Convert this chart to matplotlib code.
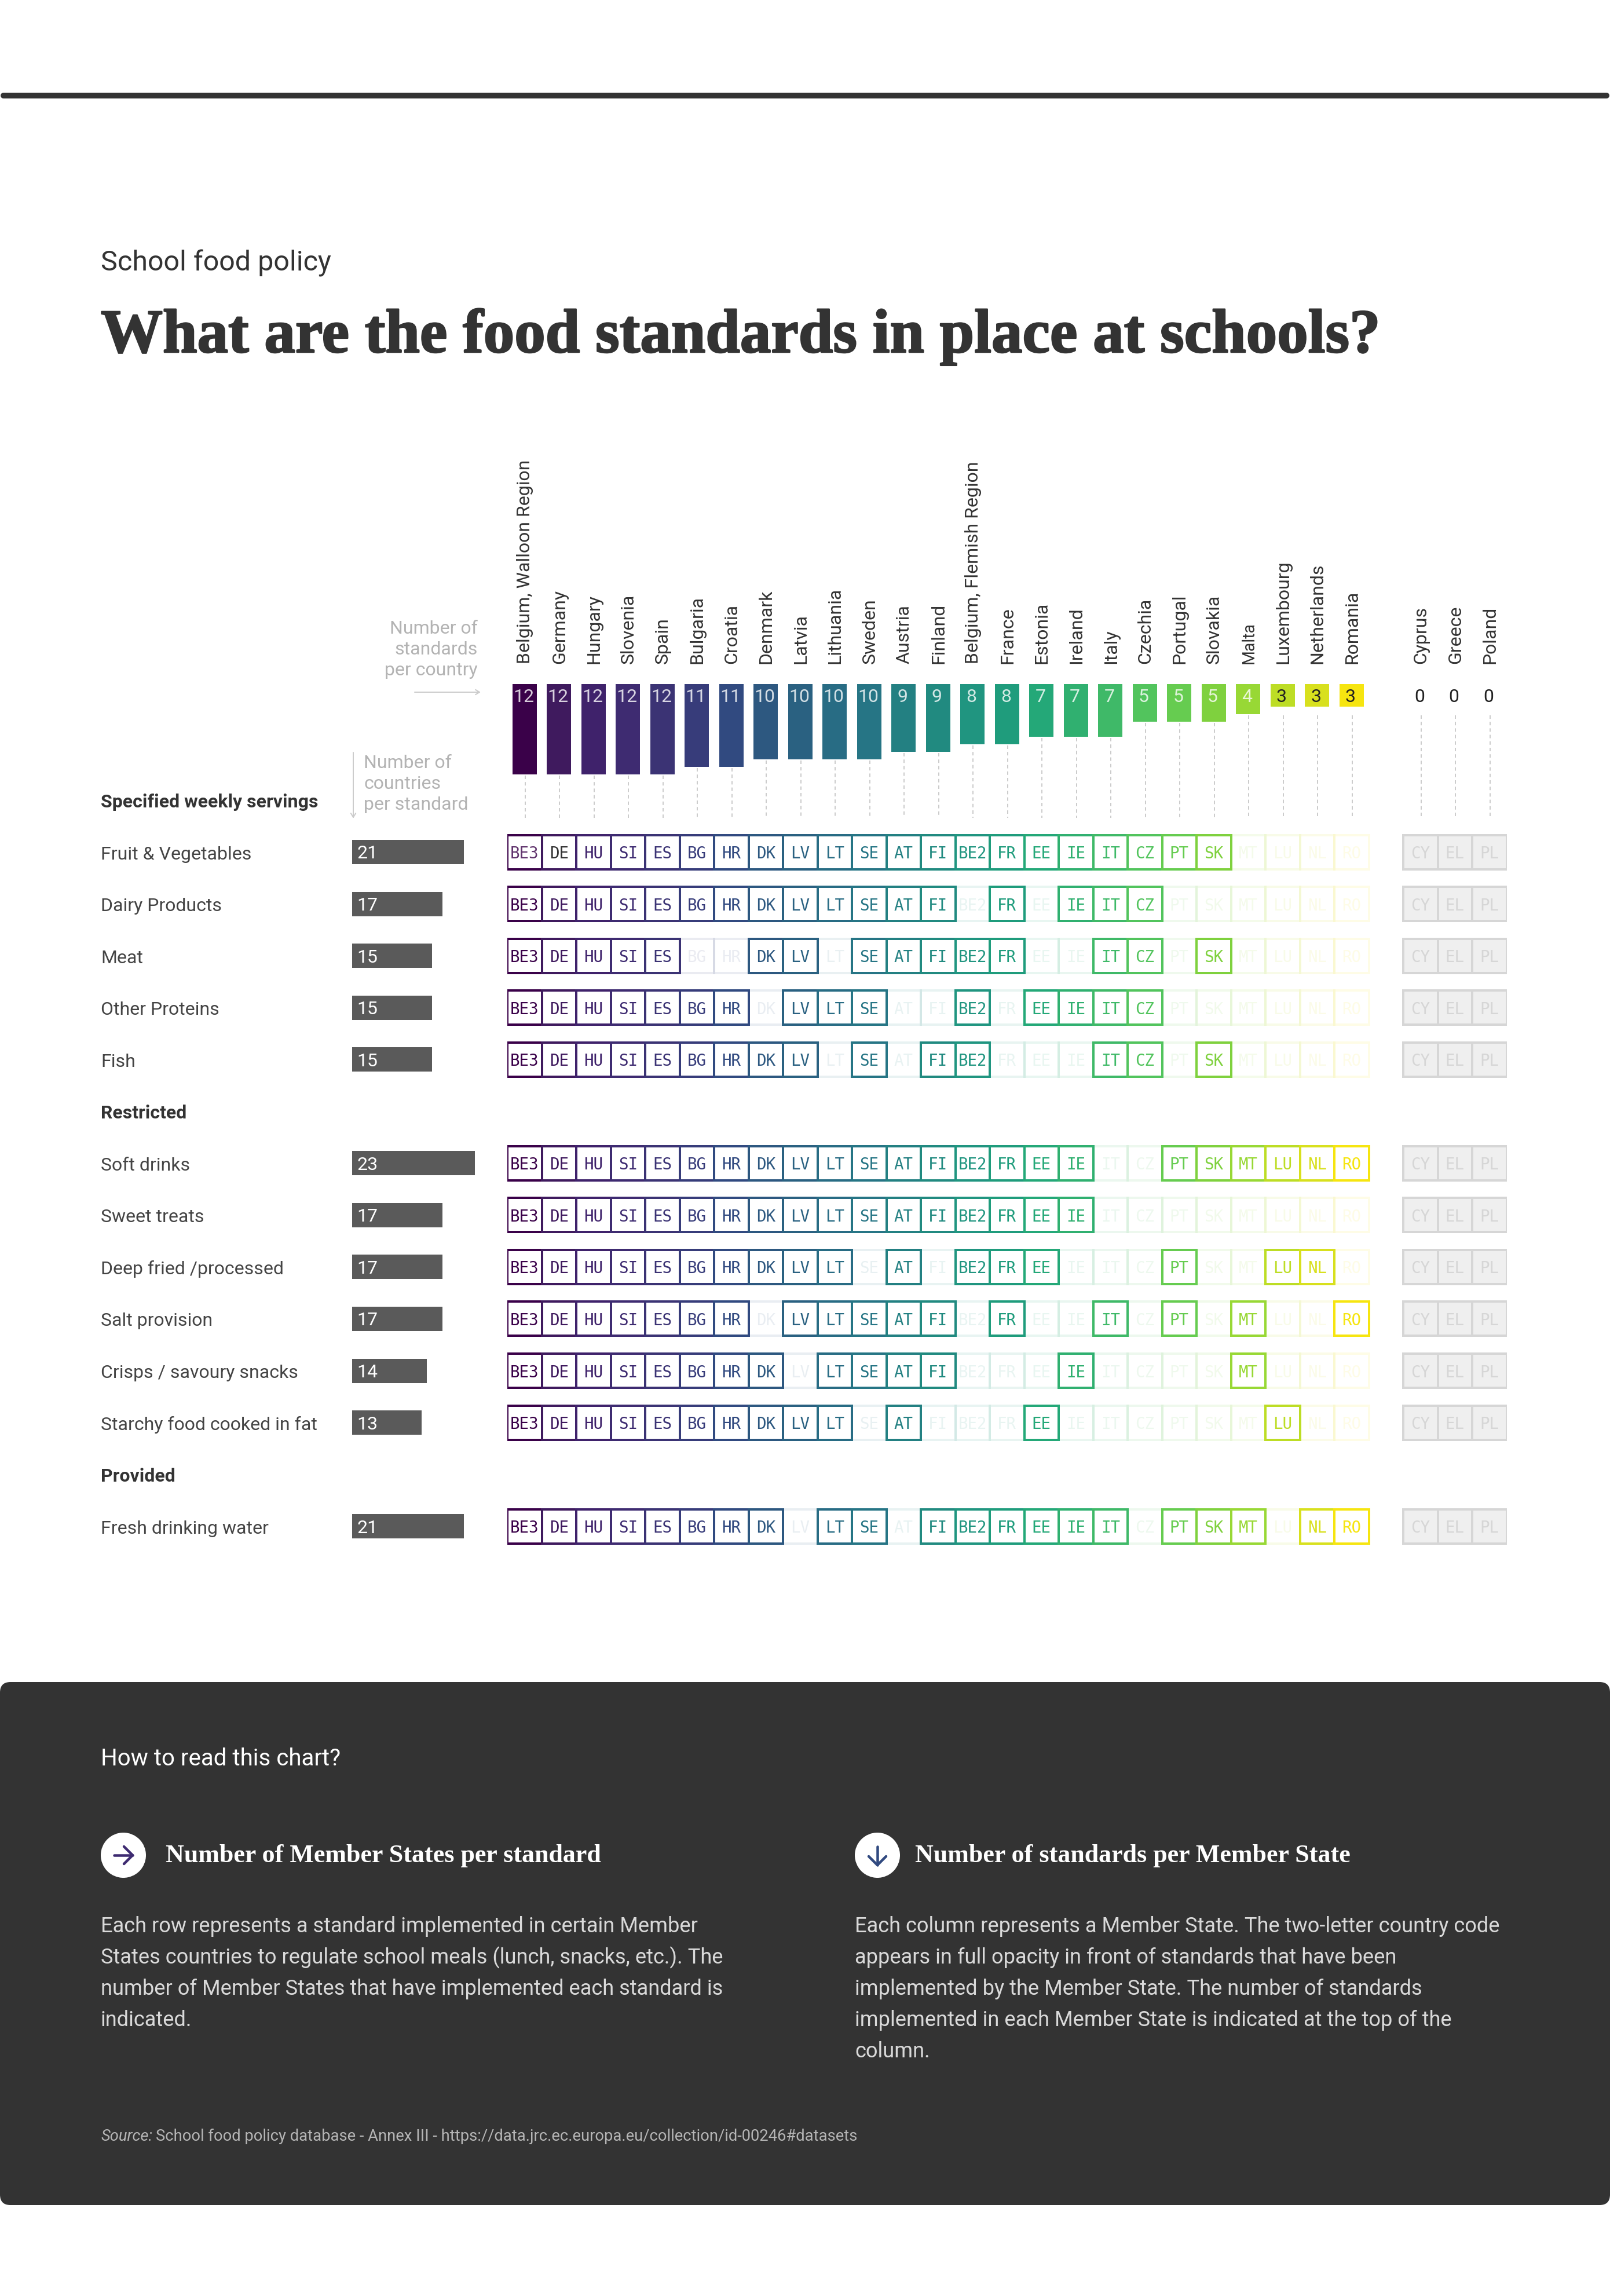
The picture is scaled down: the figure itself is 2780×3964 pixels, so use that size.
import matplotlib
matplotlib.use("Agg")
import matplotlib.pyplot as plt
import matplotlib.patheffects as pe
from matplotlib.patches import Rectangle, FancyBboxPatch, Circle

# ---------- data ----------
codes = ["BE3","DE","HU","SI","ES","BG","HR","DK","LV","LT","SE","AT","FI","BE2","FR","EE","IE","IT","CZ","PT","SK","MT","LU","NL","RO"]
countries = ["Belgium, Walloon Region","Germany","Hungary","Slovenia","Spain","Bulgaria","Croatia","Denmark","Latvia","Lithuania","Sweden","Austria","Finland","Belgium, Flemish Region","France","Estonia","Ireland","Italy","Czechia","Portugal","Slovakia","Malta","Luxembourg","Netherlands","Romania"]
standards_per_country = [12,12,12,12,12,11,11,10,10,10,10,9,9,8,8,7,7,7,5,5,5,4,3,3,3]
none_codes = ["CY","EL","PL"]
none_countries = ["Cyprus","Greece","Poland"]
none_values = [0,0,0]
col_colors = ["#3a0149","#3f1a5e","#3f226b","#3e2b71","#3b3374","#373c7a","#314a80","#2d5880","#2a6181","#286c84","#267585","#238082","#218a80","#209580","#1f9c7c","#24a878","#30b070","#3fb968","#52c45d","#66cc50","#7fd13e","#98d835","#bddd25","#d8e01e","#f6e510"]

row_labels = ["Fruit & Vegetables","Dairy Products","Meat","Other Proteins","Fish",
              "Soft drinks","Sweet treats","Deep fried /processed","Salt provision","Crisps / savoury snacks","Starchy food cooked in fat",
              "Fresh drinking water"]
row_slots = [0,1,2,3,4, 6,7,8,9,10,11, 13]
row_counts = [21,17,15,15,15,23,17,17,17,14,13,21]
section_labels = ["Specified weekly servings","Restricted","Provided"]
section_slots = [-1,5,12]

fruit = "BE3 DE HU SI ES BG HR DK LV LT SE AT FI BE2 FR EE IE IT CZ PT SK"
dairy = "BE3 DE HU SI ES BG HR DK LV LT SE AT FI FR IE IT CZ"
meat = "BE3 DE HU SI ES DK LV SE AT FI BE2 FR IT CZ SK"
proteins = "BE3 DE HU SI ES BG HR LV LT SE BE2 EE IE IT CZ"
fish = "BE3 DE HU SI ES BG HR DK LV SE FI BE2 IT CZ SK"
soft = "BE3 DE HU SI ES BG HR DK LV LT SE AT FI BE2 FR EE IE PT SK MT LU NL RO"
sweet = "BE3 DE HU SI ES BG HR DK LV LT SE AT FI BE2 FR EE IE"
fried = "BE3 DE HU SI ES BG HR DK LV LT AT BE2 FR EE PT LU NL"
salt = "BE3 DE HU SI ES BG HR LV LT SE AT FI FR IT PT MT RO"
crisps = "BE3 DE HU SI ES BG HR DK LT SE AT FI IE MT"
starchy = "BE3 DE HU SI ES BG HR DK LV LT AT EE LU"
water = "BE3 DE HU SI ES BG HR DK LT SE FI BE2 FR EE IE IT PT SK MT NL RO"
membership = [fruit,dairy,meat,proteins,fish,soft,sweet,fried,salt,crisps,starchy,water]

body_left = ["Each row represents a standard implemented in certain Member",
             "States countries to regulate school meals (lunch, snacks, etc.). The",
             "number of Member States that have implemented each standard is",
             "indicated."]
body_right = ["Each column represents a Member State. The two-letter country code",
              "appears in full opacity in front of standards that have been",
              "implemented by the Member State. The number of standards",
              "implemented in each Member State is indicated at the top of the",
              "column."]

# ---------- page set-up ----------
W, H = 2780, 3964
fig = plt.figure(figsize=(W/100, H/100), dpi=100, facecolor="white")
px = lambda v: v*0.72
SANS = "Roboto"
SLAB = "Liberation Serif"
MONO = "DejaVu Sans Mono"
DARK = "#333333"
CODE_SIZE = 27.5

def axes_px(x0, y0, x1, y1, xlim, ylim):
    ax = fig.add_axes([x0/W, 1-y1/H, (x1-x0)/W, (y1-y0)/H])
    ax.set_xlim(*xlim); ax.set_ylim(*ylim)
    ax.axis("off")
    ax.patch.set_alpha(0)
    return ax

page = axes_px(0, 0, W, H, (0, W), (H, 0))

def T(x, y, s, size, color=DARK, family=SANS, weight="normal", ha="left", va="baseline", **kw):
    return page.text(x, y, s, fontsize=px(size), color=color, family=family, weight=weight, ha=ha, va=va, **kw)

# header
page.plot([6, W-6], [165, 165], color=DARK, lw=px(10), solid_capstyle="round")
T(174, 468, "School food policy", 48.5)
T(174, 608, "What are the food standards in place at schools?", 107, family=SLAB, weight="bold",
  path_effects=[pe.withStroke(linewidth=px(2.5), foreground=DARK)])

# ---------- geometry of the matrix ----------
PITCH = 59.5
GX0 = 876
ROW_PITCH = 89.55
ROW0 = 1471
n_cols = 29
grid = axes_px(GX0, ROW0-0.5*ROW_PITCH, GX0+n_cols*PITCH, ROW0+13.5*ROW_PITCH, (0, n_cols), (13.5, -0.5))
CELL_H = 59/ROW_PITCH
LW = px(4)

none_start = len(codes) + 1
for slot, members in zip(row_slots, membership):
    present = members.split()
    y = slot - CELL_H/2
    # inactive first, active on top
    for col, code in enumerate(codes):
        if code not in present:
            grid.add_patch(Rectangle((col, y), 1, CELL_H, fill=False, ec=col_colors[col], lw=LW, alpha=0.1, joinstyle="miter"))
            grid.text(col+.5, slot, code, fontsize=px(CODE_SIZE), family=MONO, color=col_colors[col], alpha=0.1, ha="center", va="center_baseline")
    for col, code in enumerate(codes):
        if code in present:
            grid.add_patch(Rectangle((col, y), 1, CELL_H, facecolor="white", ec=col_colors[col], lw=LW, zorder=3, joinstyle="miter"))
            c = col_colors[col]
            a = 1
            if slot == 0 and code == "DE":
                c = DARK
            if slot == 0 and code == "BE3":
                a = 0.8
            grid.text(col+.5, slot, code, fontsize=px(CODE_SIZE), family=MONO, color=c, alpha=a, ha="center", va="center_baseline", zorder=4)
    for k, code in enumerate(none_codes):
        col = none_start + k
        grid.add_patch(Rectangle((col, y), 1, CELL_H, facecolor="#efefef", ec="#d6d6d6", lw=LW, joinstyle="miter"))
        grid.text(col+.5, slot, code, fontsize=px(CODE_SIZE), family=MONO, color="#d6d6d6", ha="center", va="center_baseline", zorder=4)

# ---------- standards per country bars ----------
UNIT = 13
TOP = 1181
BOT = 1412
top = axes_px(GX0, TOP, GX0+n_cols*PITCH, BOT, (0, n_cols), ((BOT-TOP)/UNIT, 0))
all_vals = standards_per_country + [None] + none_values
all_names = countries + [None] + none_countries
xs = [i+.5 for i in range(len(countries))]
top.bar(xs, standards_per_country, width=42/PITCH, color=col_colors, align="center")
for i, (v, name) in enumerate(zip(all_vals, all_names)):
    if name is None:
        continue
    x = i + .5
    top.vlines(x+0.02, max(v, 4)+0.15, (BOT-TOP)/UNIT, color="#cccccc", lw=px(2), linestyles=(0, (3, 2.6)))
    if v == 0 or v == 3:
        col, alpha = "#222222", 1
    else:
        col, alpha = "white", 0.8
    top.text(x-0.03, 2.4, str(v), fontsize=px(32), family=SANS, color=col, alpha=alpha, ha="center", va="baseline")
    page.text(GX0+x*PITCH+1, 1146, name, rotation=90, fontsize=px(28.5 if name == "Malta" else 32), family=SANS,
              color=DARK, ha="center", va="bottom")

# ---------- countries per standard bars ----------
CU = 9.2
cnt = axes_px(608, ROW0-0.5*ROW_PITCH, 608+25*CU, ROW0+13.5*ROW_PITCH, (0, 25), (13.5, -0.5))
cnt.barh(row_slots, row_counts, height=42/ROW_PITCH, color="#5a5a5a")
for slot, v, lab in zip(row_slots, row_counts, row_labels):
    cnt.text(8/CU, slot, str(v), fontsize=px(32), family=SANS, color="white", ha="left", va="center_baseline")
    T(174, ROW0+slot*ROW_PITCH+12.5, lab, 32, color="#444444")
for slot, lab in zip(section_slots, section_labels):
    T(174, ROW0+slot*ROW_PITCH+12.5, lab, 32, weight="bold")

# axis captions
GREY = "#b3b3b3"
for y, s in zip((1094, 1130, 1166), ("Number of", "standards", "per country")):
    T(825, y, s, 32, color=GREY, ha="right")
for y, s in zip((1326, 1362, 1398), ("Number of", "countries", "per standard")):
    T(628, y, s, 32, color=GREY)
page.annotate("", xy=(830, 1195), xytext=(716, 1195),
              arrowprops=dict(arrowstyle="->,head_length=0.5,head_width=0.3", color="#cccccc", lw=px(2), shrinkA=0, shrinkB=0))
page.annotate("", xy=(610, 1413), xytext=(610, 1299),
              arrowprops=dict(arrowstyle="->,head_length=0.5,head_width=0.3", color="#cccccc", lw=px(2), shrinkA=0, shrinkB=0))

# ---------- how to read panel ----------
page.add_patch(FancyBboxPatch((0, 2904), W, 903, boxstyle="round,pad=0,rounding_size=18", fc=DARK, ec="none", zorder=0))
T(174, 3048, "How to read this chart?", 40.2, color="white", zorder=2)

page.add_patch(Circle((213, 3203), 39, fc="white", ec="none", zorder=1))
page.add_patch(Circle((1515, 3203), 39, fc="white", ec="none", zorder=1))
AL = dict(lw=px(4.5), solid_capstyle="round", solid_joinstyle="round", zorder=2)
page.plot([197, 229], [3203, 3203], color="#3e2b71", **AL)
page.plot([214, 229, 214], [3188, 3203, 3218], color="#3e2b71", **AL)
page.plot([1515, 1515], [3188, 3220], color="#314a80", **AL)
page.plot([1500, 1515, 1530], [3205, 3220, 3205], color="#314a80", **AL)

T(286, 3215, "Number of Member States per standard", 44, color="white", family=SLAB, weight="bold", zorder=2)
T(1580, 3215, "Number of standards per Member State", 44, color="white", family=SLAB, weight="bold", zorder=2)

BODY = "#d9d9d9"
for i, s in enumerate(body_left):
    T(174, 3336+i*54, s, 36.3, color=BODY, zorder=2)
for i, s in enumerate(body_right):
    T(1476, 3336+i*54, s, 36.3, color=BODY, zorder=2)

T(174, 3696, "Source:", 27.4, color="#b5b5b5", style="italic", zorder=2)
T(269, 3696, "School food policy database - Annex III - https://data.jrc.ec.europa.eu/collection/id-00246#datasets", 27.4, color="#b5b5b5", zorder=2)

fig.savefig("out.png", dpi=100, facecolor="white")
